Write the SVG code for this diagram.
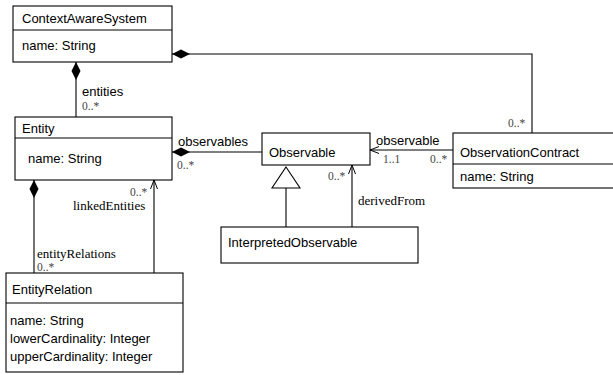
<svg xmlns="http://www.w3.org/2000/svg" width="613" height="375" viewBox="0 0 613 375">
<style>
.box{fill:#fff;stroke:#000;stroke-width:1.1}
.ln{fill:none;stroke:#000;stroke-width:1.1}
.t{font-family:"Liberation Sans",Arial,sans-serif;font-size:13px;fill:#000}
.s{font-family:"Liberation Serif","Times New Roman",serif;font-size:13px;fill:#000}
.m{font-family:"Liberation Serif","Times New Roman",serif;font-size:11.5px;fill:#444}
</style>
<defs>
<marker id="dia" markerWidth="18" markerHeight="10" refX="0" refY="5" orient="auto" markerUnits="userSpaceOnUse"><path d="M0,5 L9,0.5 L18,5 L9,9.5 Z" fill="#000"/></marker>
<marker id="open" markerWidth="10" markerHeight="10" refX="9" refY="5" orient="auto" markerUnits="userSpaceOnUse"><path d="M0,1.5 L9,5 L0,8.5" fill="none" stroke="#000" stroke-width="1"/></marker>
</defs>
<g id="connectors">
<line class="ln" x1="76" y1="62" x2="76" y2="117" marker-start="url(#dia)"/>
<polyline class="ln" points="172,54 532,54 532,133" marker-start="url(#dia)"/>
<line class="ln" x1="172" y1="152" x2="262" y2="152" marker-start="url(#dia)"/>
<line class="ln" x1="453" y1="150" x2="370" y2="150" marker-end="url(#open)"/>
<path class="ln" d="M286,167 L300,188 L272,188 Z"/>
<line class="ln" x1="286" y1="188" x2="286" y2="227"/>
<line class="ln" x1="352" y1="227" x2="352" y2="165" marker-end="url(#open)"/>
<line class="ln" x1="34" y1="180" x2="34" y2="273" marker-start="url(#dia)"/>
<line class="ln" x1="154" y1="273" x2="154" y2="180" marker-end="url(#open)"/>
<text class="t" x="82" y="96">entities</text>
<text class="m" x="82" y="110">0..*</text>
<text class="m" x="508" y="127">0..*</text>
<text class="t" x="178" y="146">observables</text>
<text class="m" x="177" y="169">0..*</text>
<text class="t" x="376" y="145">observable</text>
<text class="m" x="383" y="163">1..1</text>
<text class="m" x="430" y="163">0..*</text>
<text class="m" x="328" y="180">0..*</text>
<text class="s" x="358" y="205">derivedFrom</text>
<text class="s" x="37" y="258">entityRelations</text>
<text class="m" x="37" y="271">0..*</text>
<text class="m" x="130" y="196">0..*</text>
<text class="s" x="73" y="210">linkedEntities</text>
</g>
<g id="ContextAwareSystem">
<rect class="box" x="13" y="6" width="159" height="56"/>
<line class="ln" x1="13" y1="30" x2="172" y2="30"/>
<text class="t" x="22" y="23">ContextAwareSystem</text>
<text class="t" x="22" y="50">name: String</text>
</g>
<g id="Entity">
<rect class="box" x="15" y="117" width="157" height="63"/>
<line class="ln" x1="15" y1="138" x2="172" y2="138"/>
<text class="t" x="22" y="133">Entity</text>
<text class="t" x="28" y="163">name: String</text>
</g>
<g id="Observable">
<rect class="box" x="262" y="133" width="108" height="32"/>
<text class="t" x="269" y="157">Observable</text>
</g>
<g id="ObservationContract">
<rect class="box" x="453" y="133" width="162" height="55"/>
<line class="ln" x1="453" y1="164" x2="613" y2="164"/>
<text class="t" x="460" y="157">ObservationContract</text>
<text class="t" x="460" y="181">name: String</text>
</g>
<g id="InterpretedObservable">
<rect class="box" x="221" y="227" width="197" height="36"/>
<text class="t" x="228" y="247">InterpretedObservable</text>
</g>
<g id="EntityRelation">
<rect class="box" x="6" y="273" width="177" height="99"/>
<line class="ln" x1="6" y1="303" x2="183" y2="303"/>
<text class="t" x="12" y="294">EntityRelation</text>
<text class="t" x="10" y="325">name: String</text>
<text class="t" x="10" y="343">lowerCardinality: Integer</text>
<text class="t" x="10" y="361">upperCardinality: Integer</text>
</g>
</svg>
